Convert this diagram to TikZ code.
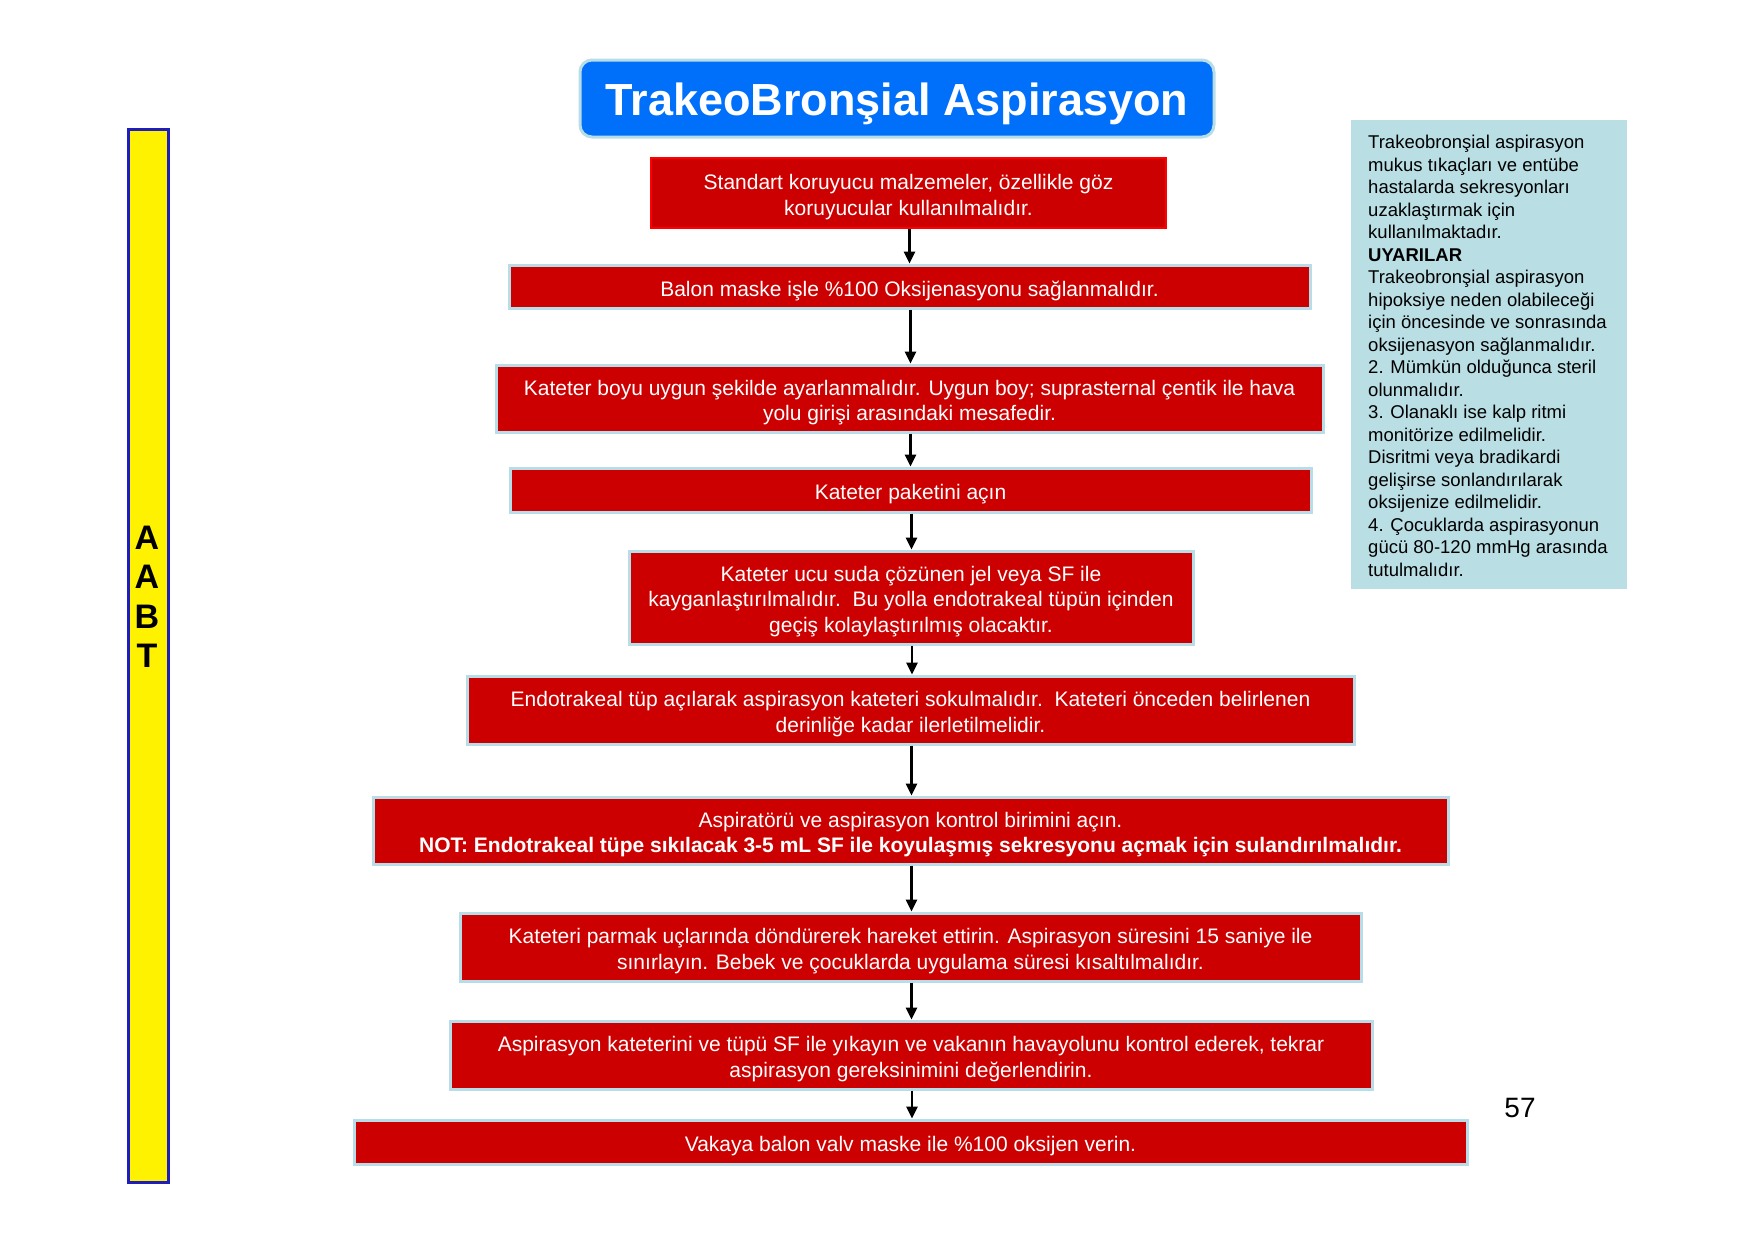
\documentclass[tikz,border=0pt]{standalone}
\usepackage{fontspec}
\setmainfont{Liberation Sans}
\usetikzlibrary{arrows.meta}
\definecolor{boxred}{RGB}{204,0,0}
\definecolor{edgeblue}{RGB}{183,221,232}
\definecolor{titleblue}{RGB}{0,112,250}
\definecolor{notefill}{RGB}{185,222,228}
\definecolor{barblue}{RGB}{30,30,190}
\tikzset{
  redbox/.style={rectangle, fill=boxred, draw=edgeblue, line width=3pt, inner sep=0pt},
  boxtext/.style={inner sep=0pt, text=white, align=center, font=\fontsize{21}{25.5}\selectfont},
  flowarrow/.style={draw=black, line width=2.6pt, -{Triangle[width=11pt,length=12pt]}}
}
% #1 name, #2 center, #3 width, #4 height, #5 extra style, #6 text
\newcommand\flowbox[6]{%
  \node[redbox, minimum width=#3, minimum height=#4, #5] (#1) at (#2) {};
  \node[boxtext] (#1t) at ([yshift=-4pt]#1.center) {#6};
}
\begin{document}
\begin{tikzpicture}[x=1pt,y=-1pt]
\useasboundingbox (0,0) rectangle (1755,1240);
\fill[white] (0,0) rectangle (1755,1240);
% title
\node[rectangle, rounded corners=12pt, fill=titleblue, draw=edgeblue, line width=3pt,
  minimum width=634pt, minimum height=77pt, inner sep=0pt] (title) at (897,98.5) {};
\node[inner sep=0pt, text=white, font=\fontsize{45}{50}\selectfont\bfseries] (titletext)
  at ([yshift=-5.5pt]title.center) {TrakeoBronşial Aspirasyon};
% side bar
\node[rectangle, fill=yellow, draw=barblue, line width=3pt, minimum width=40pt,
  minimum height=1053pt, inner sep=0pt] (bar) at (148,655.5) {};
\node[align=center, inner sep=0pt, font=\fontsize{34}{39.5}\selectfont\bfseries] (aabt) at (147,597) {A\\A\\B\\T};
% note box
\node[rectangle, fill=notefill, minimum width=276pt, minimum height=469pt, inner sep=0pt] (note) at (1489,354.5) {};
\node[anchor=north west, inner sep=0pt, align=left, font=\fontsize{18.5}{22.5}\selectfont] (notetext) at (1368,135) {%
Trakeobronşial aspirasyon\\
mukus tıkaçları ve entübe\\
hastalarda sekresyonları\\
uzaklaştırmak için\\
kullanılmaktadır.\\
\textbf{UYARILAR}\\
Trakeobronşial aspirasyon\\
hipoksiye neden olabileceği\\
için öncesinde ve sonrasında\\
oksijenasyon sağlanmalıdır.\\
2. Mümkün olduğunca steril\\
olunmalıdır.\\
3. Olanaklı ise kalp ritmi\\
monitörize edilmelidir.\\
Disritmi veya bradikardi\\
gelişirse sonlandırılarak\\
oksijenize edilmelidir.\\
4. Çocuklarda aspirasyonun\\
gücü 80-120 mmHg arasında\\
tutulmalıdır.};
% flow boxes
\flowbox{b1}{908.5,193}{515pt}{70pt}{draw=red, line width=2pt}
  {Standart koruyucu malzemeler, özellikle göz\\koruyucular kullanılmalıdır.}
\flowbox{b2}{909.5,286.5}{801pt}{43pt}{}
  {Balon maske işle \%100 Oksijenasyonu sağlanmalıdır.}
\flowbox{b3}{909.5,398.5}{827pt}{67pt}{}
  {Kateter boyu uygun şekilde ayarlanmalıdır. Uygun boy; suprasternal çentik ile hava\\yolu girişi arasındaki mesafedir.}
\flowbox{b4}{910.5,490}{801pt}{44pt}{}
  {Kateter paketini açın}
\flowbox{b5}{911,597.5}{564pt}{93pt}{}
  {Kateter ucu suda çözünen jel veya SF ile\\kayganlaştırılmalıdır.\ \ Bu yolla endotrakeal tüpün içinden\\geçiş kolaylaştırılmış olacaktır.}
\flowbox{b6}{910.5,710}{887pt}{68pt}{}
  {Endotrakeal tüp açılarak aspirasyon kateteri sokulmalıdır.\ \ Kateteri önceden belirlenen\\derinliğe kadar ilerletilmelidir.}
\flowbox{b7}{910.5,830.5}{1075pt}{67pt}{}
  {Aspiratörü ve aspirasyon kontrol birimini açın.\\\textbf{NOT: Endotrakeal tüpe sıkılacak 3-5 mL SF ile koyulaşmış sekresyonu açmak için sulandırılmalıdır.}}
\flowbox{b8}{910.5,947}{901pt}{68pt}{}
  {Kateteri parmak uçlarında döndürerek hareket ettirin. Aspirasyon süresini 15 saniye ile\\sınırlayın. Bebek ve çocuklarda uygulama süresi kısaltılmalıdır.}
\flowbox{b9}{911,1055}{922pt}{68pt}{}
  {Aspirasyon kateterini ve tüpü SF ile yıkayın ve vakanın havayolunu kontrol ederek, tekrar\\aspirasyon gereksinimini değerlendirin.}
\flowbox{b10}{910.5,1142}{1113pt}{44pt}{}
  {Vakaya balon valv maske ile \%100 oksijen verin.}
% arrows
\foreach \a/\b in {b1/b2,b2/b3,b3/b4,b4/b5,b5/b6,b6/b7,b7/b8,b8/b9,b9/b10}{
  \draw[flowarrow] ([xshift=1pt]\a.south) -- ([xshift=1pt]\a.south |- \b.north);
}
% page number
\node[inner sep=0pt, font=\fontsize{28}{32}\selectfont] (pnum) at (1520,1108) {57};
\end{tikzpicture}
\end{document}
